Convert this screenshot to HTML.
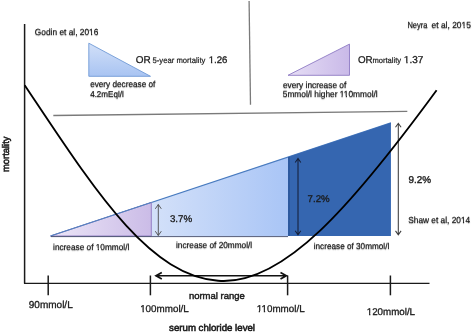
<!DOCTYPE html>
<html><head><meta charset="utf-8">
<style>
html,body{margin:0;padding:0;background:#fff;width:472px;height:334px;overflow:hidden}
svg{display:block;will-change:transform;text-rendering:geometricPrecision}
text{font-family:"Liberation Sans",sans-serif;fill:#1a1a1a;stroke:#1a1a1a;stroke-width:.45px}
.sh{text-shadow:0 1px 1px rgba(0,0,0,.28);stroke-width:.16px}
.b45{stroke-width:.45px}.b55{stroke-width:.55px}.b30{stroke-width:.3px}.b35{stroke-width:.36px}.b20{stroke-width:.28px}.b40{stroke-width:.4px}.b0{stroke-width:.2px}
</style></head><body>
<svg width="472" height="334" viewBox="0 0 472 334">
<defs>
<linearGradient id="gLB" x1="150" y1="0" x2="288" y2="0" gradientUnits="userSpaceOnUse">
<stop offset="0" stop-color="#d4e1f9"/><stop offset="1" stop-color="#a9c5f6"/>
</linearGradient>
<linearGradient id="gP" x1="50" y1="0" x2="151" y2="0" gradientUnits="userSpaceOnUse">
<stop offset="0" stop-color="#ece6f7"/><stop offset="1" stop-color="#cbbce7"/>
</linearGradient>
<linearGradient id="gT1" x1="0" y1="43" x2="0" y2="76" gradientUnits="userSpaceOnUse">
<stop offset="0" stop-color="#d2e0f8"/><stop offset="1" stop-color="#a9c4f2"/>
</linearGradient>
<linearGradient id="gT2" x1="288" y1="0" x2="350" y2="0" gradientUnits="userSpaceOnUse">
<stop offset="0" stop-color="#e6def5"/><stop offset="1" stop-color="#c9b9e8"/>
</linearGradient>
</defs>

<!-- separators -->
<line x1="249.1" y1="1" x2="250.5" y2="104.7" stroke="#7a7a7a" stroke-width="1.3"/>
<line x1="53.3" y1="115.5" x2="407.3" y2="111.3" stroke="#7a7a7a" stroke-width="1.3"/>

<!-- top-left inset -->
<polygon points="88.8,43.2 88.8,76.3 150.5,76.3" fill="url(#gT1)" stroke="#6f9ad6" stroke-width="0.9"/>

<!-- top-right inset -->
<polygon points="288,75.3 349.5,44.1 349.5,75.3" fill="url(#gT2)" stroke="#8f7cc4" stroke-width="0.9"/>

<!-- main wedge -->
<polygon points="50.6,236 390.9,122.8 390.9,236" fill="url(#gLB)"/>
<line x1="50.6" y1="236" x2="390.9" y2="122.8" stroke="#4a7cc0" stroke-width="1.25"/>
<polygon points="50.6,236 151.3,202.5 151.3,236" fill="url(#gP)" stroke="#9580c6" stroke-width="1"/>
<line x1="50.6" y1="236" x2="151.3" y2="202.5" stroke="#4f81bd" stroke-width="1"/>
<line x1="51" y1="236.6" x2="288" y2="236.6" stroke="#3f4868" stroke-width="0.9"/>
<polygon points="288,157 390.9,122.8 390.9,236 288,236" fill="#3566b0"/>
<rect x="288" y="157" width="2" height="79" fill="#2c599f"/>

<!-- vertical arrows -->
<g stroke="#4a4a4a" stroke-width="0.9" fill="none">
<path d="M158.3 204.5 V235.5 M155.3 208.8 L158.3 204.5 L161.3 208.8 M155.3 231.2 L158.3 235.5 L161.3 231.2"/>
</g>
<g stroke="#15203a" stroke-width="1.05" fill="none">
<path d="M298 158.5 V234.8 M295.2 162.5 L298 158.5 L300.8 162.5 M295.2 230.8 L298 234.8 L300.8 230.8"/>
</g>
<g stroke="#3c3c3c" stroke-width="1.05" fill="none">
<path d="M398.3 123.3 V234.8 M395.5 127.2 L398.3 123.3 L401.1 127.2 M395.5 230.9 L398.3 234.8 L401.1 230.9"/>
</g>



<!-- axes -->
<line x1="24.6" y1="24" x2="24.6" y2="283.5" stroke="#1a1a1a" stroke-width="1.5"/>
<line x1="24" y1="283.4" x2="429.5" y2="283.4" stroke="#1a1a1a" stroke-width="1.3"/>
<g stroke="#1a1a1a" stroke-width="1.5">
<line x1="48.2" y1="275.5" x2="48.2" y2="295.3"/>
<line x1="150.4" y1="275.5" x2="150.4" y2="295.3"/>
<line x1="287.6" y1="275.5" x2="287.6" y2="295.3"/>
<line x1="390.4" y1="275.5" x2="390.4" y2="295.3"/>
</g>

<!-- normal range arrow -->
<g stroke="#111" stroke-width="1.7" fill="none">
<path d="M156 275.75 H286.3 M161.8 272.55 L156 275.75 L161.8 278.95 M280.5 272.55 L286.3 275.75 L280.5 278.95"/>
</g>

<!-- U curve -->
<path d="M24.7 85.2 C95.18 190.60 147.90 275.04 218.09 280.79 C282.99 286.11 352.34 205.25 436.6 90.3" fill="none" stroke="#000" stroke-width="1.85"/>

<text id="godin" x="34.87" y="35.10" font-size="8.85" class="sh" textLength="63.43" lengthAdjust="spacingAndGlyphs">Godin et al, 2016</text>
<text id="or1" x="135.74" y="63.10" font-size="9.95" class="b20">OR</text>
<text id="yr1" x="152.56" y="63.30" font-size="8.07" class="b0" textLength="52.85" lengthAdjust="spacingAndGlyphs">5-year mortality</text>
<text id="n126" x="208.66" y="63.10" font-size="9.58" class="b30">1.26</text>
<text id="dec1" x="90.13" y="87.35" font-size="8.72" class="sh" textLength="65.19" lengthAdjust="spacingAndGlyphs">every decrease of</text>
<text id="dec2" x="90.16" y="97.05" font-size="8.59" class="sh" textLength="33.55" lengthAdjust="spacingAndGlyphs">4.2mEql/l</text>
<text id="neyra1" x="407.40" y="27.75" font-size="8.84" class="sh" textLength="20.06" lengthAdjust="spacingAndGlyphs">Neyra</text>
<text id="neyra2" x="431.55" y="27.75" font-size="8.84" class="sh" textLength="39.35" lengthAdjust="spacingAndGlyphs">et al, 2015</text>
<text id="or2" x="357.90" y="63.30" font-size="9.82" class="b20">OR</text>
<text id="mort2" x="372.39" y="63.30" font-size="7.92" class="b0" textLength="28.71" lengthAdjust="spacingAndGlyphs">mortality</text>
<text id="n137" x="403.86" y="63.30" font-size="10.00" class="b30">1.37</text>
<text id="inc1" x="282.89" y="87.50" font-size="8.88" class="sh" textLength="63.43" lengthAdjust="spacingAndGlyphs">every increase of</text>
<text id="inc2" x="282.74" y="97.20" font-size="8.85" class="sh" textLength="94.94" lengthAdjust="spacingAndGlyphs">5mmol/l higher 110mmol/l</text>
<text id="p37" x="169.93" y="222.28" font-size="9.77" class="b30">3.7%</text>
<text id="p72" x="307.58" y="202.28" font-size="9.69" class="b30">7.2%</text>
<text id="p92" x="408.52" y="182.90" font-size="9.89" class="b35">9.2%</text>
<text id="shaw" x="408.28" y="223.30" font-size="8.84" class="sh" textLength="61.94" lengthAdjust="spacingAndGlyphs">Shaw et al, 2014</text>
<text id="i10" x="53.06" y="249.65" font-size="8.78" class="sh" textLength="76.24" lengthAdjust="spacingAndGlyphs">increase of 10mmol/l</text>
<text id="i20" x="175.99" y="247.55" font-size="8.80" class="sh" textLength="76.17" lengthAdjust="spacingAndGlyphs">increase of 20mmol/l</text>
<text id="i30" x="313.75" y="248.70" font-size="8.68" class="sh" textLength="75.54" lengthAdjust="spacingAndGlyphs">increase of 30mmol/l</text>
<text id="a90" x="28.79" y="308.10" font-size="10.00" class="b30">90mmol/L</text>
<text id="a100" x="140.17" y="312.30" font-size="9.84" class="b30">100mmol/L</text>
<text id="a110" x="256.72" y="312.30" font-size="9.83" class="b30">110mmol/L</text>
<text id="a120" x="366.72" y="314.90" font-size="9.78" class="b30">120mmol/L</text>
<text id="normal" x="188.93" y="299.20" font-size="9.48" class="b45">normal range</text>
<text id="serum" x="169.11" y="331.15" font-size="9.66" class="b55">serum chloride level</text>
<text id="mortv" x="0" y="0" font-size="9.70" transform="translate(9.30,172.00) rotate(-90)" class="b55" textLength="35.50" lengthAdjust="spacingAndGlyphs">mortality</text>
<rect x="88.75" y="33.76" width="2.25" height="3.42" fill="#fff"/>
<rect x="92.21" y="33.76" width="1.95" height="3.42" fill="#fff"/>
<rect x="208.49" y="61.63" width="2.46" height="2.72" fill="#fff"/>
<rect x="212.27" y="61.63" width="2.15" height="2.72" fill="#fff"/>
<rect x="461.26" y="26.41" width="2.26" height="3.42" fill="#fff"/>
<rect x="464.74" y="26.41" width="1.96" height="3.42" fill="#fff"/>
<rect x="403.72" y="61.80" width="2.53" height="2.75" fill="#fff"/>
<rect x="407.61" y="61.80" width="2.23" height="2.75" fill="#fff"/>
<rect x="339.45" y="95.86" width="2.05" height="3.42" fill="#fff"/>
<rect x="342.61" y="95.86" width="1.76" height="3.42" fill="#fff"/>
<rect x="343.54" y="95.86" width="2.25" height="3.42" fill="#fff"/>
<rect x="347.00" y="95.86" width="1.95" height="3.42" fill="#fff"/>
<rect x="460.69" y="221.96" width="2.24" height="3.42" fill="#fff"/>
<rect x="464.13" y="221.96" width="1.95" height="3.42" fill="#fff"/>
<rect x="95.51" y="248.31" width="2.23" height="3.42" fill="#fff"/>
<rect x="98.94" y="248.31" width="1.94" height="3.42" fill="#fff"/>
<rect x="140.02" y="310.81" width="2.50" height="2.74" fill="#fff"/>
<rect x="143.86" y="310.81" width="2.20" height="2.74" fill="#fff"/>
<rect x="256.47" y="310.82" width="2.28" height="2.73" fill="#fff"/>
<rect x="259.97" y="310.82" width="1.98" height="2.73" fill="#fff"/>
<rect x="261.30" y="310.82" width="2.50" height="2.73" fill="#fff"/>
<rect x="265.15" y="310.82" width="2.20" height="2.73" fill="#fff"/>
<rect x="366.56" y="313.42" width="2.49" height="2.73" fill="#fff"/>
<rect x="370.39" y="313.42" width="2.19" height="2.73" fill="#fff"/>
</svg>
</body></html>
